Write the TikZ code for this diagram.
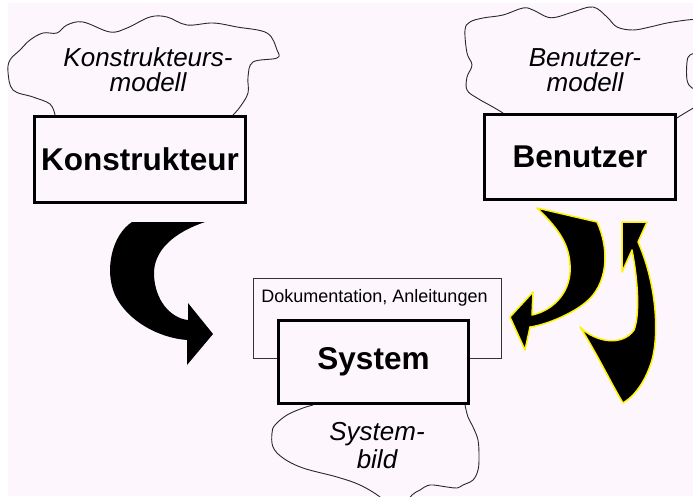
\documentclass[tikz,border=0pt]{standalone}
\usepackage{fontspec}
\setmainfont{Liberation Sans}
\usetikzlibrary{calc}
\definecolor{bgpink}{RGB}{253,247,253}
\definecolor{cloudline}{RGB}{40,40,40}

\begin{document}
\begin{tikzpicture}[x=1pt,y=-1pt,
  rolebox/.style={draw=black, line width=3pt, fill=bgpink, inner sep=0pt,
    font=\fontsize{31.5}{36}\selectfont\bfseries},
  dokubox/.style={draw=black!80, line width=1.2pt, fill=bgpink, inner sep=0pt},
  cloudtext/.style={align=center, inner sep=0pt, font=\fontsize{26}{25}\selectfont\itshape},
  cloud/.style={draw=cloudline, line width=0.9pt},
  bigarrow/.style={fill=black},
  glowarrow/.style={fill=black, draw=yellow, line width=1.5pt, line join=round}]
\useasboundingbox (0,0) rectangle (693,496);
\clip (0,0) rectangle (693,496);
\fill[bgpink] (8,3) rectangle (693,496);

% Modell-Wolken
\draw[cloud] plot[smooth, tension=0.6] coordinates {(55,115) (50,104) (33,97) (13,90) (8,72) (10,60) (20,50) (30,40) (43,33) (57,33) (67,25) (83,22) (110,32) (127,28) (150,17) (167,17) (187,25) (213,23) (237,27) (267,33) (277,50) (277,58) (253,62) (248,77) (248,93) (240,107) (233,115)};
\draw[cloud] plot[smooth, tension=0.6] coordinates {(503,113) (493,107) (477,98) (467,90) (467,77) (472,65) (467,53) (465,30) (470,22) (483,18) (503,15) (523,8) (533,10) (547,17) (557,17) (573,12) (593,7) (607,17) (617,27) (633,30) (650,27) (667,23) (687,20) (700,19)};
\draw[cloud] plot[smooth, tension=0.6] coordinates {(700,104) (690,110) (680,116) (677,118)};
\draw[cloud] plot[smooth, tension=0.6] coordinates {(700,52) (690,55) (687,62) (687,80) (692,88) (700,88)};
\draw[cloud] plot[smooth, tension=0.6] coordinates {(313,405) (303,408) (287,415) (275,425) (272,433) (273,447) (283,458) (303,468) (337,477) (360,485) (380,497) (385,505)};
\draw[cloud] plot[smooth, tension=0.6] coordinates {(405,505) (412,495) (420,490) (430,485) (447,487) (457,488) (463,485) (473,480) (478,470) (479,457) (478,440) (473,427) (468,417) (465,405)};

\node[cloudtext] (kmodell) at (148,70) {Konstrukteurs-\\modell};
\node[cloudtext] (bmodell) at (585,70.5) {Benutzer-\\modell};
\node[cloudtext, font=\fontsize{26}{28}\selectfont\itshape] (sbild) at (377,446) {System-\\bild};

% Kaesten
\node[rolebox, minimum width=211, minimum height=86] (konstrukteur) at (140,159.5) {Konstrukteur};
\node[rolebox, minimum width=191, minimum height=85] (benutzer) at (580,157) {Benutzer};
\node[dokubox, minimum width=248, minimum height=80] (doku) at (377.5,318.5) {};
\node[anchor=base, inner sep=0pt, font=\fontsize{18}{22}\selectfont] (dokutext) at (374.5,302) {Dokumentation, Anleitungen};
\node[rolebox, minimum width=190, minimum height=83] (system) at (373.5,362) {System};

% Pfeile
\fill[bigarrow] (205,222) -- (132,222)
  .. controls (112,235) and (104,270) .. (115,295)
  .. controls (128,322) and (160,338) .. (187,340)
  -- (187,365) -- (213,334) -- (188,303) -- (188,320)
  .. controls (170,318) and (155,300) .. (154,275)
  .. controls (153,250) and (175,232) .. (205,222) -- cycle;
\filldraw[glowarrow] (537,208) -- (597,222)
  .. controls (610,250) and (608,285) .. (585,303)
  .. controls (570,315) and (545,325) .. (530,327)
  -- (525,350) -- (510,317) -- (533,292) -- (532,315)
  .. controls (555,310) and (572,290) .. (570,265)
  .. controls (569,245) and (560,230) .. (537,208) -- cycle;
\filldraw[glowarrow] (623,403)
  .. controls (612,385) and (595,350) .. (580,327)
  .. controls (595,342) and (622,347) .. (634,330)
  .. controls (640,315) and (638,280) .. (632,250)
  -- (622,272) -- (622,222) -- (647,222) -- (638,242)
  .. controls (655,280) and (660,330) .. (652,360)
  .. controls (646,380) and (636,395) .. (623,403) -- cycle;
\end{tikzpicture}
\end{document}
